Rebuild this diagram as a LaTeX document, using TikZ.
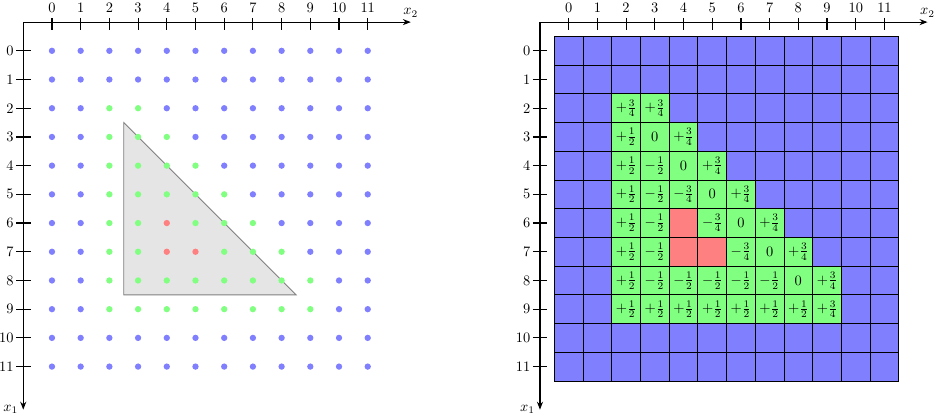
\documentclass[tikz,border=0pt]{standalone}
\usepackage{amsmath,amssymb}
\usepackage{tikz}
\usetikzlibrary{arrows.meta}
\tikzset{cellbox/.style={rectangle, draw=black, semithick, minimum size=0.7cm, inner sep=0pt}}
\tikzset{axisline/.style={thick, -{Stealth[length=5.5pt,width=4.2pt]}}}
\tikzset{valtext/.style={inner sep=0pt}}
\newcommand{\plushalf}{+\frac{1}{2}}
\newcommand{\minushalf}{-\frac{1}{2}}
\newcommand{\plustq}{+\frac{3}{4}}
\newcommand{\minustq}{-\frac{3}{4}}

\begin{document}
\begin{tikzpicture}[x=0.7cm, y=-0.7cm]
    \useasboundingbox (-1.81,-1.77) rectangle (30.9,12.79);

    % axes of both panels
    \foreach \ox/\p in {0/L,18/R}{
    \begin{scope}[shift={(\ox,0)}]
        \coordinate (\p-o) at (-1,-1);
        \coordinate (\p-x) at (12.5,-1);
        \coordinate (\p-y) at (-1,12.5);
        \draw[axisline] (\p-o) -- (\p-x);
        \draw[axisline] (\p-o) -- (\p-y);
        \node [above] (\p-x2) at (\p-x) {$x_2$};
        \node [left] (\p-x1) at (\p-y) {$x_1$};
        \foreach \k in {0,...,11}{
            \draw[thick] (\k,-1.15) -- (\k,-0.72);
            \draw[thick] (-1.25,\k) -- (-0.74,\k);
            \node [anchor=south] (\p-xt\k) at (\k,-1.15) {\k};
            \node [anchor=east, inner sep=1.5pt] (\p-yt\k) at (-1.25,\k) {\k};
        }
    \end{scope}
    }

    % left panel: triangle and sample points
    \filldraw[draw=gray, fill=gray!20, semithick] (2.5,2.5) -- (2.5,8.5) -- (8.5,8.5) -- cycle;
    \foreach \i in {0,...,11}{
        \foreach \j in {0,...,11}{
            \pgfmathtruncatemacro\ins{(\i>1)&&(\i<10)&&(\j>1)&&(\j<=min(\i+1,9))}
            \pgfmathtruncatemacro\hole{((\i==6)&&(\j==4))||((\i==7)&&(\j>3)&&(\j<6))}
            \ifnum\hole=1 \def\dotcol{red!50}\else\ifnum\ins=1 \def\dotcol{green!50}\else\def\dotcol{blue!50}\fi\fi
            \fill[\dotcol] (\j,\i) circle (2.2pt);
        }
    }

    % right panel: cells
    \begin{scope}[shift={(18,0)}]
        \foreach \i in {0,...,11}{
            \foreach \j in {0,...,11}{
                \pgfmathtruncatemacro\ins{(\i>1)&&(\i<10)&&(\j>1)&&(\j<=min(\i+1,9))}
                \pgfmathtruncatemacro\hole{((\i==6)&&(\j==4))||((\i==7)&&(\j>3)&&(\j<6))}
                \ifnum\hole=1 \def\dotcol{red!50}\else\ifnum\ins=1 \def\dotcol{green!50}\else\def\dotcol{blue!50}\fi\fi
                \node [cellbox, fill=\dotcol] (c-\i-\j) at (\j,\i) {};
            }
        }
        \foreach \i/\s/\row in {
            2/2/{\plustq,\plustq},
            3/2/{\plushalf,0,\plustq},
            4/2/{\plushalf,\minushalf,0,\plustq},
            5/2/{\plushalf,\minushalf,\minustq,0,\plustq},
            6/2/{\plushalf,\minushalf},
            6/5/{\minustq,0,\plustq},
            7/2/{\plushalf,\minushalf},
            7/6/{\minustq,0,\plustq},
            8/2/{\plushalf,\minushalf,\minushalf,\minushalf,\minushalf,\minushalf,0,\plustq},
            9/2/{\plushalf,\plushalf,\plushalf,\plushalf,\plushalf,\plushalf,\plushalf,\plustq}}{
            \foreach \v [count=\j from \s] in \row{
                \node [valtext] (t-\i-\j) at (c-\i-\j) {$\v$};
            }
        }
    \end{scope}
\end{tikzpicture}
\end{document}
